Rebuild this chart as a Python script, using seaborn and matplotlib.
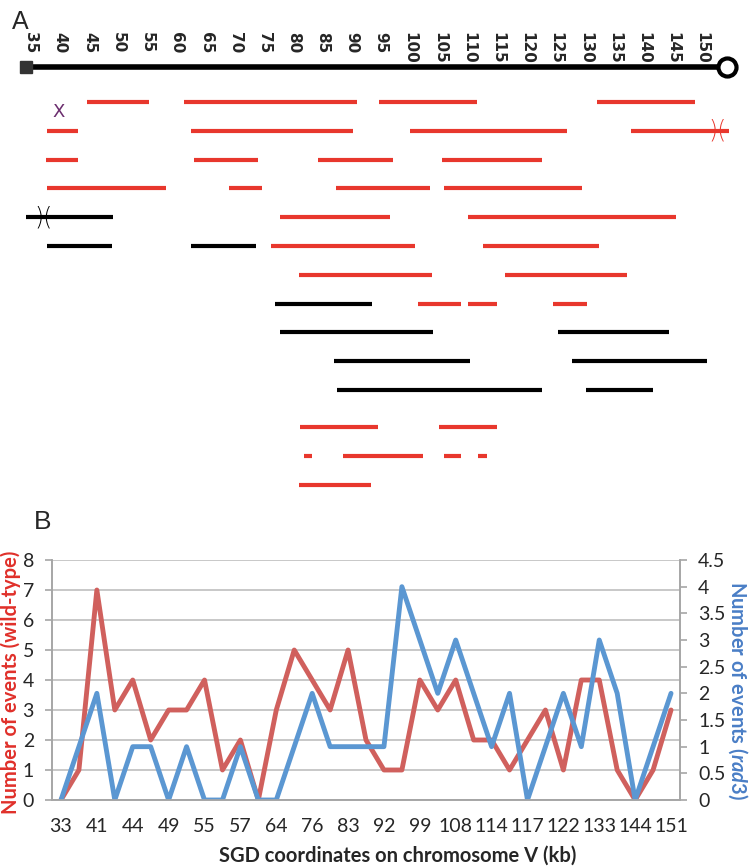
import numpy as np
import pandas as pd
import matplotlib
matplotlib.use("Agg")
import matplotlib.pyplot as plt
import seaborn as sns

sns.set_style("white")
plt.rcParams['font.family'] = ['Lato', 'DejaVu Sans']
plt.rcParams['mathtext.fontset'] = 'custom'
plt.rcParams['mathtext.it'] = 'Lato:italic:bold'
plt.rcParams['mathtext.rm'] = 'Lato:bold'

# ---- panel A data: conversion tracts on chromosome V (kb) ----
ruler_kb = list(range(35, 155, 5))
chrom_start = 33.5
chrom_end = 154.3

seg_row = [1, 1, 1, 1,
           2, 2, 2, 2,
           3, 3, 3, 3,
           4, 4, 4, 4,
           5, 5, 5,
           6, 6, 6, 6,
           7, 7,
           8, 8, 8, 8,
           9, 9,
           10, 10,
           11, 11,
           12, 12,
           13, 13, 13, 13,
           14]
seg_start = [44.6, 61.2, 94.6, 132.0,
             37.7, 62.4, 100.0, 137.8,
             37.6, 62.9, 84.2, 105.4,
             37.7, 68.9, 87.3, 105.8,
             34.1, 77.7, 109.9,
             37.7, 62.4, 76.1, 112.5,
             80.9, 116.2,
             76.8, 101.3, 109.9, 124.5,
             77.7, 125.3,
             86.9, 127.7,
             87.4, 130.1,
             81.1, 104.9,
             81.8, 88.5, 105.8, 111.6,
             80.9]
seg_end = [55.2, 90.9, 111.4, 148.8,
           43.1, 90.2, 126.9, 154.6,
           43.1, 73.9, 97.0, 122.6,
           58.1, 74.6, 103.4, 129.4,
           49.1, 96.5, 145.5,
           48.9, 73.6, 100.8, 132.3,
           103.7, 137.1,
           93.4, 108.7, 114.9, 130.3,
           103.9, 144.3,
           110.2, 150.9,
           122.6, 141.6,
           94.5, 114.9,
           83.2, 102.2, 108.7, 113.1,
           93.3]
seg_strain = ['wt', 'wt', 'wt', 'wt',
              'wt', 'wt', 'wt', 'wt',
              'wt', 'wt', 'wt', 'wt',
              'wt', 'wt', 'wt', 'wt',
              'rad3', 'wt', 'wt',
              'rad3', 'rad3', 'wt', 'wt',
              'wt', 'wt',
              'rad3', 'wt', 'wt', 'wt',
              'rad3', 'rad3',
              'rad3', 'rad3',
              'rad3', 'rad3',
              'wt', 'wt',
              'wt', 'wt', 'wt', 'wt',
              'wt']

# markers: (kb, row)
cross_kb = [39.8]
cross_row = [1]
break_kb = [37.1, 152.7]
break_row = [5, 2]
break_strain = ['rad3', 'wt']

# ---- panel B data ----
coord_labels = ['33', '', '41', '', '44', '', '49', '', '55', '', '57', '', '64', '',
                '76', '', '83', '', '92', '', '99', '', '108', '', '114', '', '117', '',
                '122', '', '133', '', '144', '', '151']
events_wt = [0, 1, 7, 3, 4, 2, 3, 3, 4, 1, 2, 0, 3, 5, 4, 3, 5, 2, 1, 1,
             4, 3, 4, 2, 2, 1, 2, 3, 1, 4, 4, 1, 0, 1, 3]
events_rad3 = [0, 1, 2, 0, 1, 1, 0, 1, 0, 0, 1, 0, 0, 1, 2, 1, 1, 1, 1, 4,
               3, 2, 3, 2, 1, 2, 0, 1, 2, 1, 3, 2, 0, 1, 2]

seg_colors = {'wt': '#e8372d', 'rad3': '#000000'}
wt_line = '#d0605d'
rad3_line = '#5b97d2'
grey = '#a6a6a6'

fig = plt.figure(figsize=(7.5, 8.66), dpi=100)

# ---------------- panel A ----------------
axA = fig.add_axes([0, 1 - 510 / 866, 1, 510 / 866])
segs = pd.DataFrame({'row': seg_row, 'start': seg_start, 'end': seg_end, 'strain': seg_strain})
segs['y'] = segs['row'] + np.where(segs['row'] > 11, 0.3, 0.0)
for strain, grp in segs.groupby('strain'):
    axA.hlines(grp['y'], grp['start'], grp['end'], color=seg_colors[strain], lw=3.0,
               capstyle='butt')

# chromosome
axA.plot([chrom_start, chrom_end], [-0.22, -0.22], color='black', lw=4, solid_capstyle='butt')
axA.plot([chrom_start + 0.6], [-0.22], marker='s', ms=9, color='#333333')
axA.plot([chrom_end], [-0.22], marker='o', ms=13, mfc='white', mec='black', mew=3)
for kb in ruler_kb:
    axA.text(kb, -1.42, str(kb), rotation=-90, ha='center', va='top', fontsize=11,
             fontweight='bold', family='DejaVu Sans')

for kb, r in zip(cross_kb, cross_row):
    axA.text(kb, r + 0.35, 'X', color='#6b2d6e', fontsize=13, ha='center', va='center',
             family='DejaVu Sans')
for kb, r, s in zip(break_kb, break_row, break_strain):
    axA.text(kb, r, ')(', color=seg_colors[s], fontsize=17, ha='center', va='center',
             family='DejaVu Sans', fontweight='light')

axA.set_xlim(29.69, 158.22)
axA.set_ylim(15.17, -2.54)
axA.axis('off')
fig.text(0.016, 0.988, 'A', fontsize=18, va='top', ha='left', family='Liberation Sans')

# ---------------- panel B ----------------
axB = fig.add_axes([52 / 750, 1 - 800 / 866, 628 / 750, 240 / 866])
idx = np.arange(len(events_wt))
dfB = pd.DataFrame({'idx': idx, 'wt': events_wt, 'rad3': events_rad3})
sns.lineplot(data=dfB, x='idx', y='wt', ax=axB, color=wt_line, lw=3.5)
axB2 = axB.twinx()
sns.lineplot(data=dfB, x='idx', y='rad3', ax=axB2, color=rad3_line, lw=3.5)

axB.set_xlim(-0.5, len(idx) - 0.5)
axB.set_ylim(0, 8)
axB2.set_ylim(0, 4.5)
axB.set_yticks(range(0, 9))
axB2.set_yticks(np.arange(0, 4.6, 0.5))
axB2.set_yticklabels(['0', '0.5', '1', '1.5', '2', '2.5', '3', '3.5', '4', '4.5'])
axB.set_xticks(idx[::2])
axB.set_xticklabels([l for l in coord_labels[::2]])
axB.set_xticks(np.arange(-0.5, len(idx), 1), minor=True)
axB.tick_params(axis='x', which='major', length=0, pad=13, labelsize=14)
axB.tick_params(axis='x', which='minor', length=5, width=1.2, color=grey)
axB.tick_params(axis='y', length=5, width=1.2, color=grey, labelsize=14, pad=8, left=True)
axB2.tick_params(axis='y', length=5, width=1.2, color=grey, labelsize=14, pad=8, right=True)
axB.yaxis.grid(True, color='#bfbfbf', lw=1.2)
axB.set_axisbelow(True)
for ax in (axB, axB2):
    ax.spines['top'].set_visible(False)
    for side in ('left', 'right', 'bottom'):
        ax.spines[side].set_color(grey)
        ax.spines[side].set_linewidth(1.2)

axB.set_xlabel('SGD coordinates on chromosome V (kb)', fontsize=14.5, fontweight='bold')
axB.xaxis.set_label_coords(0.55, -0.19)
axB.set_ylabel('Number of events (wild-type)', fontsize=14.5, fontweight='bold', color='#e0302a')
axB.yaxis.set_label_coords(-0.05, 0.49)
axB2.set_ylabel(r'Number of events ($\mathit{rad3}$)', fontsize=14.5, fontweight='bold',
                color='#4a7ec6', rotation=270, va='bottom')
axB2.yaxis.set_label_coords(1.073, 0.455)
fig.text(0.045, 1 - 510 / 866, 'B', fontsize=19, va='top', ha='left', family='Liberation Sans')

fig.savefig('out.png', dpi=100)
